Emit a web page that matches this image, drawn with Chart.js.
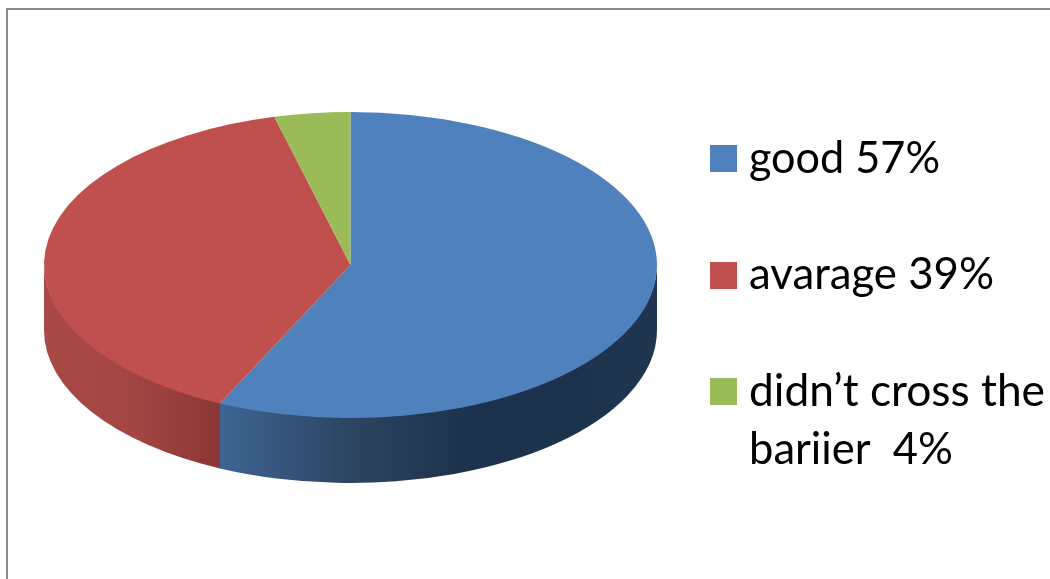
<!DOCTYPE html>
<html>
<head>
<meta charset="utf-8">
<title>pie</title>
<script src="https://cdn.jsdelivr.net/npm/chart.js@4"></script>
<style>
html, body { margin: 0; padding: 0; background: #fff; overflow: hidden; }
canvas { display: block; }
</style>
</head>
<body>
<canvas id="miGrafica" width="1050" height="579"></canvas>
<script>
"use strict";

// datos
const categorias = ["good", "avarage", "didn't cross the bariier"];
const valores = [57, 39, 4];
const colores = ["#4f81bd", "#c0504d", "#9bbb59"];

// texto de la leyenda, una fila por renglon
const lineasLeyenda = [
    ["good 57%"],
    ["avarage 39%"],
    ["didn\u2019t cross the", "bariier  4%"]
];
const anchoLineas = [[191], [245], [296, 204]];
const baseLineas = [[173], [289], [406, 464]];
const cuadroY = [145, 262, 378];

// sombra del costado: posicion (0-1 sobre el ancho del pie) y color
const costados = [
    [[0, "#3e6592"], [0.287, "#3e6592"], [0.5, "#2c4562"], [0.7, "#1c314b"], [1, "#1f3550"]],
    [[0, "#a84946"], [0.14, "#a34643"], [0.287, "#8b3735"]],
    [[0, "#9bbb59"], [1, "#9bbb59"]]
];
const alto3d = 65;

const marco = {
    id: "marco",
    beforeDraw(chart) {
        const ctx = chart.ctx;
        ctx.save();
        ctx.fillStyle = "#fff";
        ctx.fillRect(0, 0, chart.width, chart.height);
        ctx.strokeStyle = "#8a8a8a";
        ctx.lineWidth = 2;
        ctx.beginPath();
        ctx.moveTo(7, chart.height);
        ctx.lineTo(7, 9);
        ctx.lineTo(chart.width, 9);
        ctx.stroke();
        ctx.restore();
    }
};

// el pie se dibuja normal y se estira en x, el costado sale de los angulos de cada arco
const pie3d = {
    id: "pie3d",
    beforeDatasetsDraw(chart) {
        const ctx = chart.ctx;
        const area = chart.chartArea;
        const sx = area.width / area.height;
        const arcos = chart.getDatasetMeta(0).data;

        arcos.forEach((arco, i) => {
            const desde = Math.max(arco.startAngle, 0);
            const hasta = Math.min(arco.endAngle, Math.PI);
            if (hasta <= desde) return;
            const rx = arco.outerRadius * sx;
            const ry = arco.outerRadius;
            const g = ctx.createLinearGradient(arco.x - rx, 0, arco.x + rx, 0);
            costados[i].forEach(s => g.addColorStop(s[0], s[1]));
            ctx.save();
            ctx.fillStyle = g;
            ctx.beginPath();
            // 1px arriba para que no quede un filo blanco contra la tapa
            ctx.ellipse(arco.x, arco.y - 1, rx, ry, 0, desde, hasta);
            ctx.ellipse(arco.x, arco.y + alto3d, rx, ry, 0, hasta, desde, true);
            ctx.closePath();
            ctx.fill();
            ctx.restore();
        });

        ctx.save();
        const cx = (area.left + area.right) / 2;
        ctx.translate(cx, 0);
        ctx.scale(sx, 1);
        ctx.translate(-cx, 0);
    },
    afterDatasetsDraw(chart) {
        chart.ctx.restore();
    }
};

const leyenda = {
    id: "leyenda",
    afterDraw(chart) {
        const ctx = chart.ctx;
        ctx.save();
        ctx.font = "45px Lato";
        ctx.textBaseline = "alphabetic";
        lineasLeyenda.forEach((lineas, i) => {
            ctx.fillStyle = colores[i];
            ctx.fillRect(710, cuadroY[i], 27, 27);
            ctx.fillStyle = "#000";
            lineas.forEach((t, j) => {
                ctx.fillText(t, 749, baseLineas[i][j], anchoLineas[i][j]);
            });
        });
        ctx.restore();
    }
};

const ctx = document.getElementById("miGrafica").getContext("2d");
new Chart(ctx, {
    type: "pie",
    data: {
        labels: categorias,
        datasets: [{
            data: valores,
            backgroundColor: colores,
            borderWidth: 0
        }]
    },
    options: {
        responsive: false,
        animation: false,
        layout: { padding: { left: 44, right: 393, top: 112, bottom: 161 } },
        plugins: {
            legend: { display: false },
            tooltip: { enabled: false }
        }
    },
    plugins: [marco, pie3d, leyenda]
});
</script>
</body>
</html>
